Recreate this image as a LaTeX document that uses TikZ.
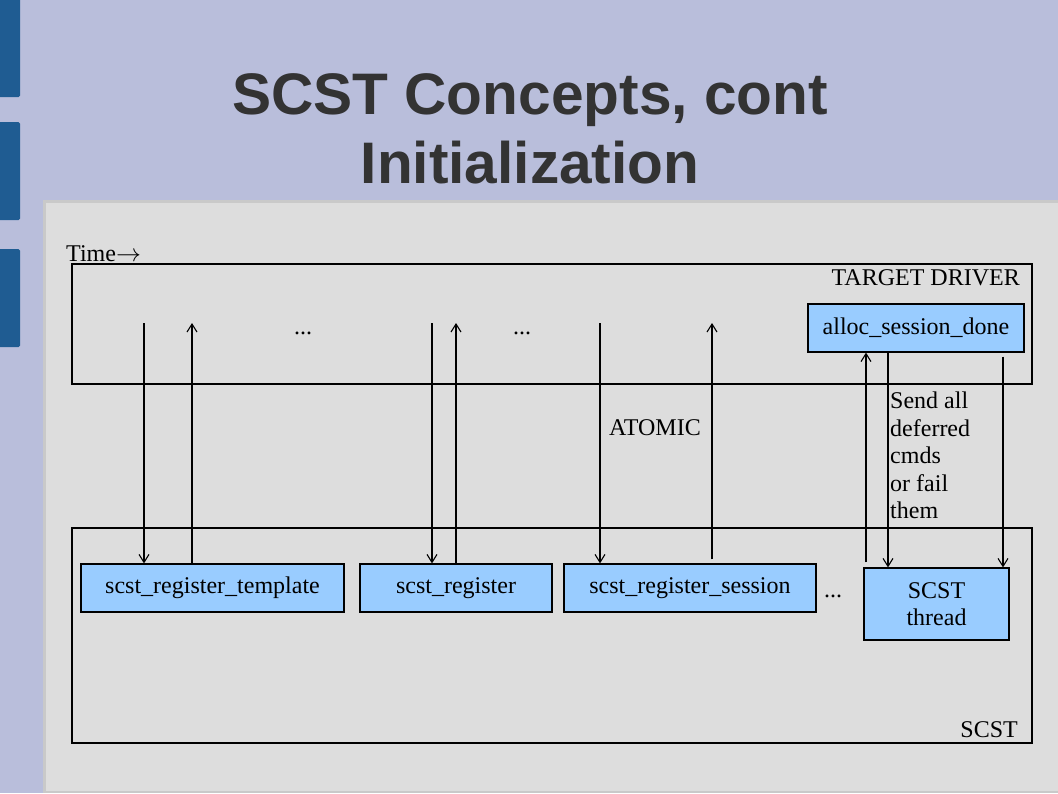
\documentclass[tikz,border=0pt]{standalone}
\usepackage{fontspec}
\setmainfont{Liberation Serif}
\newfontfamily\titlefont{Liberation Sans}
\usetikzlibrary{arrows.meta}
\definecolor{bg}{HTML}{B9BEDB}
\definecolor{bar}{HTML}{1F5C92}
\definecolor{panel}{HTML}{DDDDDD}
\definecolor{panelborder}{HTML}{C9C9C9}
\definecolor{boxfill}{HTML}{99CCFF}
\definecolor{titlegray}{HTML}{333333}
\tikzset{
  lbl/.style={font=\fontsize{24}{27.5}\selectfont, inner sep=0pt, text=black},
  fn/.style={draw=black, line width=1.2pt, fill=boxfill, inner sep=0pt,
             font=\fontsize{24}{27}\selectfont, align=center},
  region/.style={draw=black, line width=1.2pt},
  arr/.style={line width=1.2pt, -{Straight Barb[length=8pt,width=10pt,line width=1.1pt]}},
  ttl/.style={font=\titlefont\bfseries\fontsize{58.6}{70}\selectfont, text=titlegray, inner sep=0pt, anchor=base},
}
\begin{document}
\begin{tikzpicture}[x=1pt,y=-1pt]
\useasboundingbox (0,0) rectangle (1058,793);
% background
\fill[bg] (0,0) rectangle (1058,793);
\fill[bar, rounded corners=1.5pt] (-3,-3) rectangle (20,97);
\fill[bar, rounded corners=1.5pt] (-3,122) rectangle (20,220);
\fill[bar, rounded corners=1.5pt] (-3,249) rectangle (20,347);
\fill[panelborder] (43,200) rectangle (1058,793);
\fill[panel] (46,203) rectangle (1058,791);
% title
\node[ttl] (title1) at (530,114) {SCST Concepts, cont};
\node[ttl] (title2) at (530,183) {Initialization};
% regions
\draw[region] (72,264) rectangle (1032,384);
\draw[region] (72,528) rectangle (1032,743);
\node[lbl, anchor=base west] (time) at (66,261) {Time$\rightarrow$};
\node[lbl, anchor=base east] (tdlabel) at (1020,285) {TARGET DRIVER};
\node[lbl, anchor=base east] (scstlabel) at (1018,737) {SCST};
% function boxes
\node[fn, minimum width=263pt, minimum height=48pt] (tmpl) at (212.5,588) {scst\_register\_template};
\node[fn, minimum width=192pt, minimum height=48pt] (reg) at (456,588) {scst\_register};
\node[fn, minimum width=252pt, minimum height=48pt] (sess) at (690,588) {scst\_register\_session};
\node[fn, minimum width=145pt, minimum height=72pt] (thread) at (936.5,604) {SCST\\thread};
\node[fn, minimum width=216pt, minimum height=48pt] (alloc) at (916,328) {alloc\_session\_done};
% labels
\node[lbl, anchor=base] (dots1) at (303,334) {...};
\node[lbl, anchor=base] (dots2) at (522,334) {...};
\node[lbl, anchor=base] (dots3) at (833,597) {...};
\node[lbl, anchor=base west] (atomic) at (609,435) {ATOMIC};
\node[lbl, anchor=north west, align=left] (send) at (890,392) {Send all\\deferred\\cmds\\or fail\\them};
% free ends
\coordinate (d1) at (144,323);
\coordinate (u1) at (192,323);
\coordinate (d2) at (432,323);
\coordinate (u2) at (456,323);
\coordinate (d3) at (600,323);
\coordinate (u3) at (712,323);
\coordinate (xa) at (866,0);
\coordinate (xb) at (888,0);
\coordinate (xc) at (1003,0);
% connectors
\draw[arr] (d1) -- (d1 |- tmpl.north);
\draw[arr] (tmpl.north -| u1) -- (u1);
\draw[arr] (d2) -- (d2 |- reg.north);
\draw[arr] (reg.north -| u2) -- (u2);
\draw[arr] (d3) -- (d3 |- sess.north);
\draw[arr, shorten <=4pt] (sess.north -| u3) -- (u3);
\draw[arr, shorten <=5pt] (thread.north -| xa) -- (alloc.south -| xa);
\draw[arr] (alloc.south -| xb) -- (thread.north -| xb);
\draw[arr, shorten <=4pt] (alloc.south -| xc) -- (thread.north -| xc);
\end{tikzpicture}
\end{document}
